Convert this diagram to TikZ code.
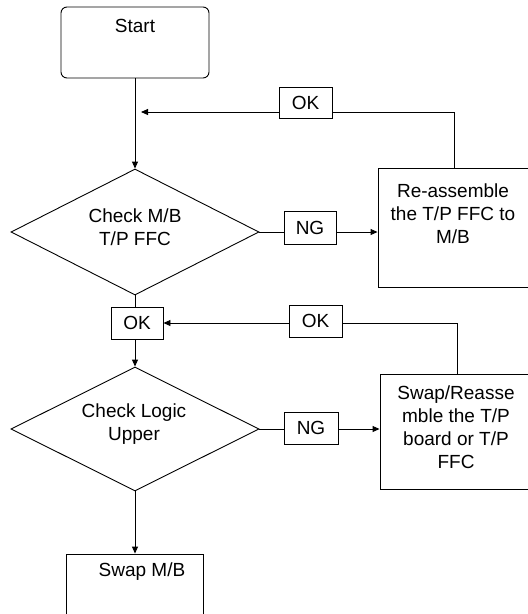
\documentclass[tikz,border=0pt]{standalone}
\usepackage{fontspec}
\setmainfont{Liberation Sans}
\usetikzlibrary{arrows.meta,shapes.geometric}
\begin{document}
\begin{tikzpicture}[x=1pt,y=-1pt,line width=0.9pt,
  box/.style={draw, rectangle, inner sep=0pt},
  dec/.style={draw, diamond, inner sep=0pt},
  tag/.style={draw, rectangle, inner sep=0pt, minimum width=53pt, minimum height=31pt, font=\fontsize{19}{23}\selectfont},
  txt/.style={inner sep=0pt, align=center, font=\fontsize{19}{23}\selectfont},
  arr/.style={-{Triangle[length=7pt,width=6pt]}}]
\useasboundingbox (0,0) rectangle (528,614);
\clip (0,0) rectangle (528,614);
\fill[white] (0,0) rectangle (528,614);
% nodes
\node[box, rounded corners=6pt, minimum width=148pt, minimum height=71pt] (start) at (135,42.5) {};
\node[txt] (startT) at (135,26) {Start};
\node[dec, minimum width=248pt, minimum height=126pt] (d1) at (135,232) {};
\node[txt] (d1T) at (135,227.5) {Check M/B\\T/P FFC};
\node[tag] (ok1) at (305.5,103) {OK};
\node[box, minimum width=152pt, minimum height=119pt] (re) at (454,227.5) {};
\node[txt] (reT) at (453,213.5) {Re-assemble\\the T/P FFC to\\M/B};
\node[tag, minimum width=52pt, minimum height=33pt] (ng1) at (310,227.5) {NG};
\node[tag, minimum width=52pt, minimum height=32pt] (ok2) at (137,323) {OK};
\node[tag, minimum height=32pt] (ok3) at (315.5,321) {OK};
\node[dec, minimum width=248pt, minimum height=124pt] (d2) at (135,429) {};
\node[txt] (d2T) at (134,424) {Check Logic\\Upper};
\node[tag, minimum width=54pt, minimum height=32pt] (ng2) at (311,428) {NG};
\node[box, minimum width=154pt, minimum height=115pt] (sw) at (457,431.5) {};
\node[txt] (swT) at (456,427.5) {Swap/Reasse\\mble the T/P\\board or T/P\\FFC};
\node[box, minimum width=137pt, minimum height=70pt] (mb) at (135,589) {};
\node[txt] (mbT) at (142,572) {Swap M/B};
\coordinate (j1) at (141,112);
% connectors
\draw[arr] (start.south) -- (d1.north);
\draw (re.north) |- (ok1.east |- j1);
\draw[arr] (ok1.west |- j1) -- (j1);
\draw (d1.east) -- (ng1.west |- d1.east);
\draw[arr] (ng1.east |- d1.east) -- (re.west |- d1.east);
\draw (d1.south) -- (d1.south |- ok2.north);
\draw[arr] (d1.south |- ok2.south) -- (d2.north);
\draw (sw.north) |- (ok3.east |- ok2.east);
\draw[arr] (ok3.west |- ok2.east) -- (ok2.east);
\draw (d2.east) -- (ng2.west |- d2.east);
\draw[arr] (ng2.east |- d2.east) -- (sw.west |- d2.east);
\draw[arr] (d2.south) -- (mb.north);
\end{tikzpicture}
\end{document}
